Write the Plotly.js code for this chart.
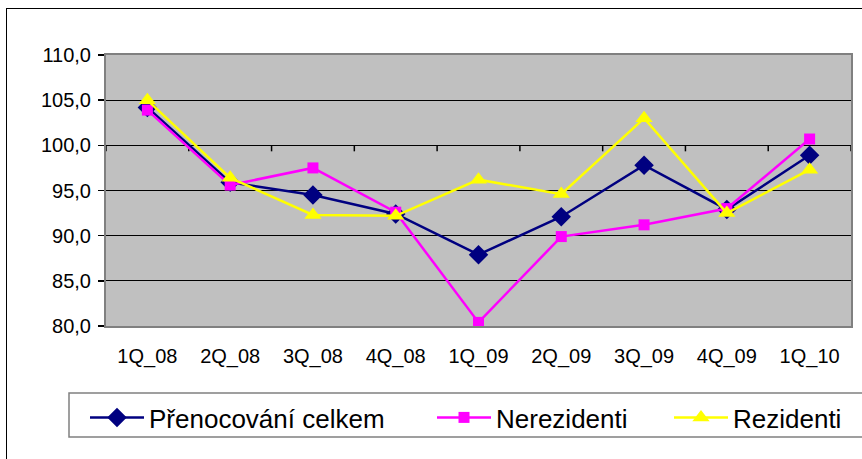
<!DOCTYPE html>
<html>
<head>
<meta charset="utf-8">
<script src="https://cdn.plot.ly/plotly-3.0.1.min.js"></script>
<style>
  html, body { margin: 0; padding: 0; background: #ffffff; overflow: hidden; }
  #frame { position: absolute; left: 6px; top: 8px; width: 900px; height: 500px; border-left: 1.5px solid #000; border-top: 1.5px solid #000; }
  #chart { position: absolute; left: 0; top: 0; width: 862px; height: 459px; }
</style>
</head>
<body>
<div id="frame"></div>
<div id="chart"></div>
<script>
const categories = ["1Q_08", "2Q_08", "3Q_08", "4Q_08", "1Q_09", "2Q_09", "3Q_09", "4Q_09", "1Q_10"];
const celkem = [104.2, 95.9, 94.5, 92.4, 87.9, 92.1, 97.8, 92.9, 98.9];
const nerezidenti = [103.9, 95.6, 97.5, 92.6, 80.4, 89.9, 91.2, 93.0, 100.7];
const rezidenti = [105.0, 96.4, 92.3, 92.2, 96.2, 94.6, 103.0, 92.5, 97.3];
const seriesNames = ["Přenocování celkem", "Nerezidenti", "Rezidenti"];
const yTicks = [80, 85, 90, 95, 100, 105, 110];
const crossValue = 100;

const font = "'Liberation Sans', Arial, sans-serif";
const idx = categories.map((c, i) => i);
const boundaries = categories.map((c, i) => i - 0.5).concat([categories.length - 0.5]);

// plot area in px: left 106, right 851, top 55, bottom 326
const PL = 106, PW = 745, PB = 326, PH = 271;
const px2x = p => (p - PL) / PW;
const px2y = p => (PB - p) / PH;
const yPerPx = 30 / PH;

const traces = [
  // category-boundary tick marks on the category axis that crosses at 100 (downward error bars)
  { x: boundaries, y: boundaries.map(() => crossValue), type: "scatter", mode: "markers",
    marker: { size: 1, color: "rgba(0,0,0,0)" },
    error_y: { type: "data", symmetric: false, array: boundaries.map(() => 0), arrayminus: boundaries.map(() => 6 * yPerPx),
               width: 0, thickness: 1.5, color: "#000000" },
    showlegend: false, hoverinfo: "skip" },
  { x: idx, y: celkem, name: seriesNames[0], type: "scatter", mode: "lines+markers", legend: "legend",
    line: { color: "#000080", width: 2.5 }, marker: { symbol: "diamond", size: 15, color: "#000080" } },
  { x: idx, y: nerezidenti, name: seriesNames[1], type: "scatter", mode: "lines+markers", legend: "legend2",
    line: { color: "#FF00FF", width: 2.5 }, marker: { symbol: "square", size: 11, color: "#FF00FF" } },
  { x: idx, y: rezidenti, name: seriesNames[2], type: "scatter", mode: "lines+markers", legend: "legend3",
    line: { color: "#FFFF00", width: 2.5 }, marker: { symbol: "triangle-up", size: 15, color: "#FFFF00" } }
];

function legendAt(linePx) {
  return {
    orientation: "h", x: px2x(linePx - 8), xanchor: "left",
    y: px2y(394), yanchor: "top",
    bgcolor: "rgba(0,0,0,0)", borderwidth: 0,
    font: { family: font, size: 26, color: "#000" },
    itemwidth: 54
  };
}

const layout = {
  width: 862, height: 459,
  margin: { l: PL, r: 862 - PL - PW, t: 55, b: 459 - PB },
  paper_bgcolor: "rgba(0,0,0,0)",
  plot_bgcolor: "#C0C0C0",
  separators: ", ",
  font: { family: font, size: 20, color: "#000" },
  showlegend: true,
  xaxis: {
    type: "linear", range: [-0.5, 8.5], autorange: false, showgrid: false, zeroline: false,
    tickmode: "array", tickvals: idx, ticktext: categories,
    ticks: "outside", ticklen: 11, tickcolor: "rgba(0,0,0,0)",
    tickfont: { family: font, size: 20, color: "#000" },
    showline: true, linecolor: "#808080", linewidth: 2, mirror: true
  },
  yaxis: {
    range: [80, 110], autorange: false, tickmode: "array", tickvals: yTicks, tickformat: ".1f",
    showgrid: true, gridcolor: "#000", gridwidth: 1, zeroline: false,
    ticks: "outside", ticklen: 6, tickcolor: "#000", tickwidth: 1.5,
    ticklabelstandoff: 3,
    tickfont: { family: font, size: 20, color: "#000" },
    showline: true, linecolor: "#808080", linewidth: 2, mirror: true
  },
  shapes: [{
    type: "rect", xref: "paper", yref: "paper", layer: "below",
    x0: px2x(69), x1: px2x(880), y0: px2y(437), y1: px2y(393),
    fillcolor: "#ffffff", line: { color: "#808080", width: 1.5 }
  }],
  legend: legendAt(93),
  legend2: legendAt(440),
  legend3: legendAt(677)
};

Plotly.newPlot("chart", traces, layout, { displayModeBar: false, staticPlot: true });
</script>
</body>
</html>
